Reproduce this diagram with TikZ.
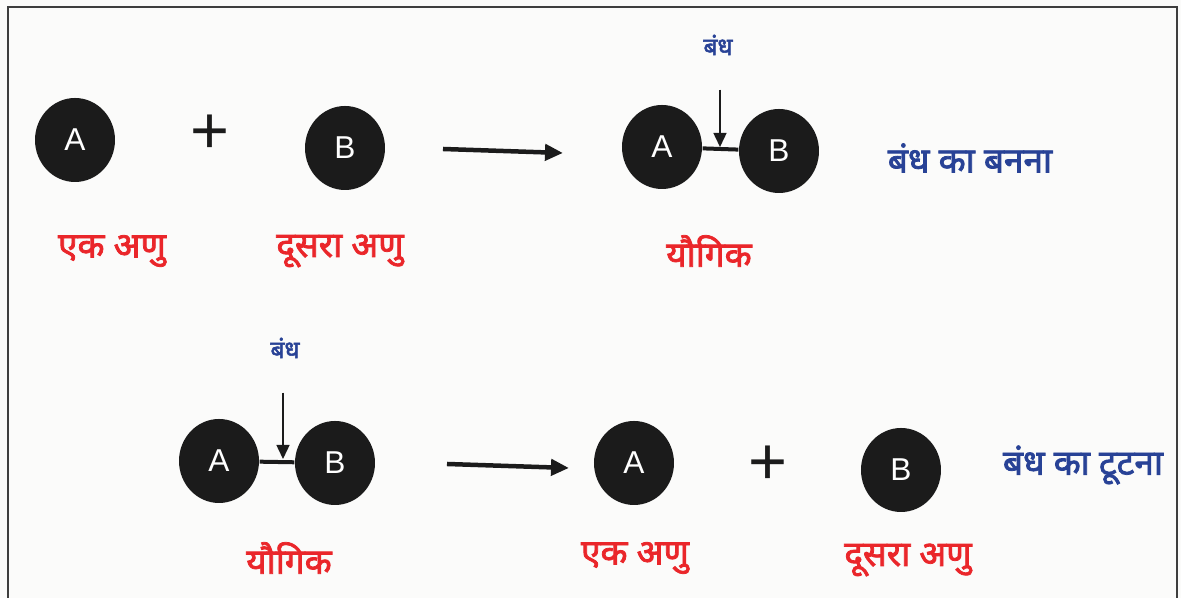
\documentclass[tikz,border=0pt]{standalone}
\usepackage{fontspec}
\setmainfont{Liberation Sans}
\newfontfamily\hindi[Script=Devanagari, FakeBold=2.2]{Noto Sans}
\usetikzlibrary{arrows.meta,positioning,shapes.geometric,calc}
\definecolor{bgwhite}{RGB}{251,251,250}
\definecolor{atomblack}{RGB}{27,27,27}
\definecolor{lblred}{RGB}{234,38,42}
\definecolor{lblblue}{RGB}{40,66,150}
\definecolor{framegray}{RGB}{62,62,62}
\tikzset{
  atom/.style={ellipse, fill=atomblack, minimum width=8mm, minimum height=8.4mm,
               inner sep=0pt, text=white, font=\fontsize{9}{10}\selectfont},
  redlbl/.style={text=lblred, font=\hindi\fontsize{10}{12}\selectfont},
  bluelbl/.style={text=lblblue, font=\hindi\fontsize{10}{12}\selectfont},
  bondlbl/.style={text=lblblue, font=\hindi\fontsize{7}{8}\selectfont},
  plussign/.style={font=\fontsize{19}{19}\selectfont, text=atomblack, inner sep=0pt},
  bondline/.style={draw=atomblack, line width=0.4mm},
  react/.style={draw=atomblack, line width=0.45mm, -{Triangle[length=1.8mm, width=1.6mm]}},
  pointer/.style={draw=atomblack, line width=0.15mm, -{Triangle[length=1.4mm, width=1.3mm]}},
}
\begin{document}
\begin{tikzpicture}[x=0.1mm, y=-0.1mm]
  \useasboundingbox (0,0) rectangle (1181,598);
  \fill[bgwhite] (0,0) rectangle (1181,598);
  \draw[framegray, line width=0.28mm] (8,598) -- (8,7) -- (1177,7) -- (1177,598);

  % Bond formation
  \node[atom] (a1) at (75,140) {A};
  \node[plussign] (p1) at (210,134) {+};
  \node[atom] (b1) at (345,148) {B};
  \node[atom] (ca1) at (662,147) {A};
  \node[atom] (cb1) at (779,151) {B};
  \draw[bondline] (ca1) -- (cb1);
  \coordinate (r1s) at (443,149);
  \coordinate (r1e) at (563,153);
  \draw[react] (r1s) -- (r1e);
  \node[bondlbl] (bl1) at (718,45) {बंध};
  \coordinate (bm1) at (720,147);
  \draw[pointer, shorten <=2.2mm] (bl1.south -| bm1) -- (bm1);
  \node[bluelbl] (t1) at (970,158) {बंध का बनना};
  \node[redlbl] (n1) at (112,251) {एक अणु};
  \node[redlbl] (n2) at (340,251) {दूसरा अणु};
  \node[redlbl] (n3) at (709,251) {यौगिक};

  % Bond breaking
  \node[bondlbl] (bl2) at (285,348) {बंध};
  \node[atom] (ca2) at (219,461) {A};
  \node[atom] (cb2) at (335,463) {B};
  \draw[bondline] (ca2) -- (cb2);
  \coordinate (bm2) at (283,459);
  \draw[pointer, shorten <=2.2mm] (bl2.south -| bm2) -- (bm2);
  \coordinate (r2s) at (447,464);
  \coordinate (r2e) at (569,468);
  \draw[react] (r2s) -- (r2e);
  \node[atom] (a2) at (634,463) {A};
  \node[plussign] (p2) at (768,465) {+};
  \node[atom] (b2) at (901,470) {B};
  \node[bluelbl] (t2) at (1083,465) {बंध का टूटना};
  \node[redlbl] (n4) at (289,558) {यौगिक};
  \node[redlbl] (n5) at (635,558) {एक अणु};
  \node[redlbl] (n6) at (908,560) {दूसरा अणु};
\end{tikzpicture}
\end{document}
